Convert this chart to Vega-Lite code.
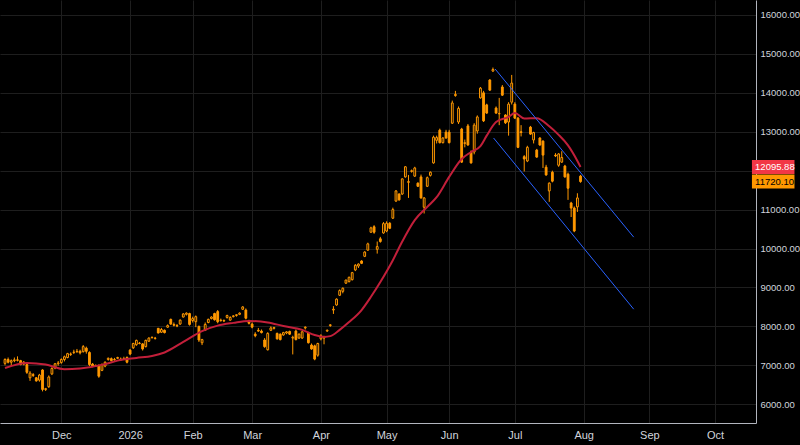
{
  "$schema": "https://vega.github.io/schema/vega-lite/v6.json",
  "description": "SOX daily candles with moving average and a falling channel",
  "width": 756,
  "height": 423,
  "autosize": {"type": "none"},
  "padding": {"left": 0, "top": 0, "right": 44, "bottom": 22},
  "background": "#000000",
  "config": {"view": {"stroke": null}, "font": "Liberation Sans"},
  "datasets": {
    "candles": [
      {"i": -18, "o": 7050, "h": 7180, "l": 7000, "c": 7150},
      {"i": -17, "o": 7150, "h": 7200, "l": 7050, "c": 7080},
      {"i": -16, "o": 7080, "h": 7150, "l": 6980, "c": 7120},
      {"i": -15, "o": 7120, "h": 7200, "l": 7080, "c": 7140},
      {"i": -14, "o": 7140, "h": 7230, "l": 7100, "c": 7130},
      {"i": -13, "o": 7120, "h": 7140, "l": 7000, "c": 7020},
      {"i": -12, "o": 7030, "h": 7110, "l": 7000, "c": 7080},
      {"i": -11, "o": 7020, "h": 7040, "l": 6780, "c": 6820},
      {"i": -10, "o": 6680, "h": 6850, "l": 6600, "c": 6800},
      {"i": -9, "o": 6760, "h": 6800, "l": 6700, "c": 6740},
      {"i": -8, "o": 6680, "h": 6700, "l": 6580, "c": 6600},
      {"i": -7, "o": 6620, "h": 6780, "l": 6580, "c": 6750},
      {"i": -6, "o": 6880, "h": 6900, "l": 6330, "c": 6380},
      {"i": -5, "o": 6380, "h": 6420, "l": 6340, "c": 6400},
      {"i": -4, "o": 6450, "h": 6740, "l": 6420, "c": 6700},
      {"i": -3, "o": 6780, "h": 6950, "l": 6750, "c": 6920},
      {"i": -2, "o": 6930, "h": 7060, "l": 6900, "c": 7040},
      {"i": -1, "o": 7040, "h": 7110, "l": 6990, "c": 7060},
      {"i": 0, "o": 7070, "h": 7180, "l": 7040, "c": 7150},
      {"i": 1, "o": 7150, "h": 7250, "l": 7100, "c": 7220},
      {"i": 2, "o": 7200, "h": 7320, "l": 7180, "c": 7300},
      {"i": 3, "o": 7280, "h": 7330, "l": 7240, "c": 7290},
      {"i": 4, "o": 7330, "h": 7400, "l": 7290, "c": 7340},
      {"i": 5, "o": 7350, "h": 7420, "l": 7320, "c": 7360},
      {"i": 6, "o": 7360, "h": 7400, "l": 7280, "c": 7320},
      {"i": 7, "o": 7350, "h": 7520, "l": 7330, "c": 7480},
      {"i": 8, "o": 7440, "h": 7480, "l": 7300, "c": 7360},
      {"i": 9, "o": 7330, "h": 7360, "l": 6980, "c": 7020},
      {"i": 10, "o": 7030, "h": 7060, "l": 6950, "c": 6980},
      {"i": 11, "o": 6980, "h": 7020, "l": 6960, "c": 7000},
      {"i": 12, "o": 7000, "h": 7020, "l": 6680, "c": 6720},
      {"i": 13, "o": 6870, "h": 7050, "l": 6850, "c": 7020},
      {"i": 14, "o": 6980, "h": 7100, "l": 6950, "c": 7080},
      {"i": 15, "o": 7150, "h": 7200, "l": 7120, "c": 7180},
      {"i": 16, "o": 7170, "h": 7200, "l": 7100, "c": 7120},
      {"i": 17, "o": 7140, "h": 7190, "l": 7120, "c": 7150},
      {"i": 18, "o": 7180, "h": 7220, "l": 7160, "c": 7200},
      {"i": 19, "o": 7160, "h": 7200, "l": 7110, "c": 7140},
      {"i": 20, "o": 7170, "h": 7220, "l": 7140, "c": 7160},
      {"i": 21, "o": 7200, "h": 7230, "l": 7050, "c": 7080},
      {"i": 22, "o": 7390, "h": 7420, "l": 7260, "c": 7290},
      {"i": 23, "o": 7450, "h": 7580, "l": 7420, "c": 7560},
      {"i": 24, "o": 7530, "h": 7660, "l": 7500, "c": 7640},
      {"i": 25, "o": 7560, "h": 7600, "l": 7540, "c": 7570},
      {"i": 26, "o": 7550, "h": 7570, "l": 7380, "c": 7420},
      {"i": 27, "o": 7480, "h": 7660, "l": 7460, "c": 7640},
      {"i": 28, "o": 7620, "h": 7720, "l": 7600, "c": 7700},
      {"i": 29, "o": 7710, "h": 7740, "l": 7690, "c": 7720},
      {"i": 30, "o": 7690, "h": 7730, "l": 7660, "c": 7700},
      {"i": 31, "o": 7950, "h": 7960, "l": 7820, "c": 7830},
      {"i": 32, "o": 7850, "h": 7960, "l": 7830, "c": 7920},
      {"i": 33, "o": 7900, "h": 7920, "l": 7820, "c": 7840},
      {"i": 34, "o": 7980, "h": 8050, "l": 7960, "c": 8020},
      {"i": 35, "o": 8180, "h": 8200, "l": 8040, "c": 8060},
      {"i": 36, "o": 8050, "h": 8100, "l": 8000, "c": 8030},
      {"i": 37, "o": 8020, "h": 8060, "l": 7980, "c": 8010},
      {"i": 38, "o": 8060, "h": 8180, "l": 8040, "c": 8160},
      {"i": 39, "o": 8240, "h": 8340, "l": 8230, "c": 8320},
      {"i": 40, "o": 8310, "h": 8360, "l": 8280, "c": 8340},
      {"i": 41, "o": 8330, "h": 8350, "l": 8020, "c": 8050},
      {"i": 42, "o": 8150, "h": 8250, "l": 8100, "c": 8200},
      {"i": 43, "o": 8120, "h": 8280, "l": 7980, "c": 8250},
      {"i": 44, "o": 8000, "h": 8020, "l": 7600, "c": 7650},
      {"i": 45, "o": 7580, "h": 7680, "l": 7520, "c": 7660},
      {"i": 46, "o": 7900, "h": 8100, "l": 7880, "c": 8050},
      {"i": 47, "o": 8100, "h": 8200, "l": 8080, "c": 8180},
      {"i": 48, "o": 8200, "h": 8260, "l": 8180, "c": 8240},
      {"i": 49, "o": 8330, "h": 8350, "l": 8150, "c": 8170},
      {"i": 50, "o": 8380, "h": 8420, "l": 8080, "c": 8120},
      {"i": 51, "o": 8150, "h": 8200, "l": 8120, "c": 8160},
      {"i": 52, "o": 8140, "h": 8180, "l": 8110, "c": 8150},
      {"i": 53, "o": 8230, "h": 8300, "l": 8200, "c": 8280},
      {"i": 54, "o": 8160, "h": 8260, "l": 8150, "c": 8230},
      {"i": 55, "o": 8250, "h": 8290, "l": 8230, "c": 8270},
      {"i": 56, "o": 8280, "h": 8310, "l": 8250, "c": 8300},
      {"i": 57, "o": 8310, "h": 8360, "l": 8290, "c": 8340},
      {"i": 58, "o": 8440, "h": 8520, "l": 8420, "c": 8500},
      {"i": 59, "o": 8420, "h": 8460, "l": 8180, "c": 8210},
      {"i": 60, "o": 8130, "h": 8170, "l": 8050, "c": 8080},
      {"i": 61, "o": 8060, "h": 8100, "l": 7950, "c": 7980},
      {"i": 62, "o": 7800, "h": 7850, "l": 7720, "c": 7760},
      {"i": 63, "o": 7900, "h": 7960, "l": 7860, "c": 7880},
      {"i": 64, "o": 7880, "h": 7920, "l": 7820, "c": 7840},
      {"i": 65, "o": 7650, "h": 7700, "l": 7450, "c": 7480},
      {"i": 66, "o": 7400, "h": 7850, "l": 7380, "c": 7820},
      {"i": 67, "o": 7900, "h": 8000, "l": 7880, "c": 7960},
      {"i": 68, "o": 7950, "h": 7990, "l": 7920, "c": 7970},
      {"i": 69, "o": 7820, "h": 7840, "l": 7660, "c": 7680},
      {"i": 70, "o": 7800, "h": 7820, "l": 7640, "c": 7660},
      {"i": 71, "o": 7780, "h": 7860, "l": 7760, "c": 7840},
      {"i": 72, "o": 7830, "h": 7880, "l": 7800, "c": 7860},
      {"i": 73, "o": 7870, "h": 7890, "l": 7780, "c": 7800},
      {"i": 74, "o": 7700, "h": 7760, "l": 7280, "c": 7720},
      {"i": 75, "o": 7880, "h": 7920, "l": 7640, "c": 7660},
      {"i": 76, "o": 7700, "h": 7820, "l": 7680, "c": 7800},
      {"i": 77, "o": 7700, "h": 7880, "l": 7680, "c": 7860},
      {"i": 78, "o": 7960, "h": 8000, "l": 7920, "c": 7980},
      {"i": 79, "o": 7830, "h": 7860, "l": 7560, "c": 7580},
      {"i": 80, "o": 7520, "h": 7560, "l": 7400, "c": 7420},
      {"i": 81, "o": 7500, "h": 7530, "l": 7130, "c": 7160},
      {"i": 82, "o": 7260, "h": 7580, "l": 7220, "c": 7560},
      {"i": 83, "o": 7680, "h": 7800, "l": 7640, "c": 7760},
      {"i": 84, "o": 7700, "h": 7760, "l": 7540, "c": 7720},
      {"i": 85, "o": 7880, "h": 7920, "l": 7860, "c": 7900},
      {"i": 86, "o": 8020, "h": 8060, "l": 7990, "c": 8040},
      {"i": 87, "o": 8420, "h": 8520, "l": 8320, "c": 8440},
      {"i": 88, "o": 8550, "h": 8720, "l": 8530, "c": 8700},
      {"i": 89, "o": 8800, "h": 8950, "l": 8780, "c": 8920},
      {"i": 90, "o": 8900, "h": 9000, "l": 8850, "c": 8980},
      {"i": 91, "o": 9110, "h": 9200, "l": 9090, "c": 9190},
      {"i": 92, "o": 9150, "h": 9280, "l": 9130, "c": 9260},
      {"i": 93, "o": 9200, "h": 9400, "l": 9180, "c": 9380},
      {"i": 94, "o": 9450, "h": 9600, "l": 9420, "c": 9570},
      {"i": 95, "o": 9550, "h": 9620, "l": 9500, "c": 9600},
      {"i": 96, "o": 9680, "h": 9700, "l": 9600, "c": 9620},
      {"i": 97, "o": 9800, "h": 9930, "l": 9780, "c": 9910},
      {"i": 98, "o": 9960, "h": 10150, "l": 9940, "c": 10120},
      {"i": 99, "o": 10420, "h": 10560, "l": 10400, "c": 10530},
      {"i": 100, "o": 10560, "h": 10600, "l": 10380, "c": 10420},
      {"i": 101, "o": 9980, "h": 10180, "l": 9870, "c": 10050},
      {"i": 102, "o": 10250, "h": 10300, "l": 10150, "c": 10180},
      {"i": 103, "o": 10400, "h": 10680, "l": 10380, "c": 10640},
      {"i": 104, "o": 10450, "h": 10700, "l": 10420, "c": 10650},
      {"i": 105, "o": 10650, "h": 10680, "l": 10500, "c": 10520},
      {"i": 106, "o": 10780, "h": 11050, "l": 10760, "c": 11000},
      {"i": 107, "o": 11220, "h": 11500, "l": 11200, "c": 11480},
      {"i": 108, "o": 11400, "h": 11420, "l": 11230, "c": 11250},
      {"i": 109, "o": 11400, "h": 11800, "l": 11380, "c": 11790},
      {"i": 110, "o": 11840, "h": 12120, "l": 11820, "c": 12100},
      {"i": 111, "o": 11700, "h": 11890, "l": 11300, "c": 11720},
      {"i": 112, "o": 11980, "h": 12030, "l": 11950, "c": 12000},
      {"i": 113, "o": 11860, "h": 12100, "l": 11840, "c": 12070},
      {"i": 114, "o": 11680, "h": 11700, "l": 11580, "c": 11600},
      {"i": 115, "o": 11840, "h": 11900, "l": 11280, "c": 11300},
      {"i": 116, "o": 11060, "h": 11320, "l": 10900, "c": 11300},
      {"i": 117, "o": 11600, "h": 11850, "l": 11580, "c": 11820},
      {"i": 118, "o": 11880, "h": 11980, "l": 11850, "c": 11960},
      {"i": 119, "o": 12200, "h": 12900, "l": 12180, "c": 12860},
      {"i": 120, "o": 12780, "h": 12900, "l": 12700, "c": 12850},
      {"i": 121, "o": 13040, "h": 13080, "l": 12700, "c": 12720},
      {"i": 122, "o": 12720, "h": 12860, "l": 12700, "c": 12840},
      {"i": 123, "o": 12990, "h": 13050, "l": 12820, "c": 12840},
      {"i": 124, "o": 12990, "h": 13050, "l": 12700, "c": 12720},
      {"i": 125, "o": 13220, "h": 13800, "l": 13200, "c": 13740},
      {"i": 126, "o": 13930, "h": 14050, "l": 13900, "c": 13960},
      {"i": 127, "o": 13250, "h": 13650, "l": 13200, "c": 13600},
      {"i": 128, "o": 13070, "h": 13100, "l": 12200, "c": 12220},
      {"i": 129, "o": 12700, "h": 12800, "l": 12600, "c": 12720},
      {"i": 130, "o": 13150, "h": 13200, "l": 12640, "c": 12660},
      {"i": 131, "o": 12480, "h": 12520, "l": 12180, "c": 12200},
      {"i": 132, "o": 12480, "h": 13220, "l": 12420, "c": 13170},
      {"i": 133, "o": 13020, "h": 13420, "l": 12950, "c": 13380},
      {"i": 134, "o": 13870, "h": 14150, "l": 13850, "c": 14120},
      {"i": 135, "o": 14000, "h": 14050, "l": 13250, "c": 13280},
      {"i": 136, "o": 13690, "h": 13720, "l": 13460, "c": 13480},
      {"i": 137, "o": 14330, "h": 14350, "l": 14050, "c": 14070},
      {"i": 138, "o": 14560, "h": 14650, "l": 14540, "c": 14600},
      {"i": 139, "o": 13610, "h": 13650, "l": 13460, "c": 13480},
      {"i": 140, "o": 13460, "h": 13870, "l": 13170, "c": 13470},
      {"i": 141, "o": 14150, "h": 14200, "l": 13920, "c": 13940},
      {"i": 142, "o": 13430, "h": 13450, "l": 13200, "c": 13230},
      {"i": 143, "o": 13250, "h": 13760, "l": 12900, "c": 13710},
      {"i": 144, "o": 13760, "h": 14460, "l": 13700, "c": 14250},
      {"i": 145, "o": 13710, "h": 13760, "l": 13330, "c": 13350},
      {"i": 146, "o": 13350, "h": 13380, "l": 12580, "c": 12600},
      {"i": 147, "o": 13000, "h": 13170, "l": 12880, "c": 12980},
      {"i": 148, "o": 12360, "h": 12400, "l": 11980, "c": 12300},
      {"i": 149, "o": 12250, "h": 12640, "l": 12220, "c": 12600},
      {"i": 150, "o": 13120, "h": 13150, "l": 12920, "c": 12940},
      {"i": 151, "o": 12790, "h": 13000, "l": 12700, "c": 12980},
      {"i": 152, "o": 12530, "h": 12560, "l": 12330, "c": 12350},
      {"i": 153, "o": 12840, "h": 12860, "l": 12640, "c": 12660},
      {"i": 154, "o": 12760, "h": 12780, "l": 12070, "c": 12400},
      {"i": 155, "o": 12090, "h": 12150, "l": 11870, "c": 11890},
      {"i": 156, "o": 11480, "h": 11700, "l": 11200, "c": 11680},
      {"i": 157, "o": 11960, "h": 12000, "l": 11700, "c": 11730},
      {"i": 158, "o": 12400, "h": 12450, "l": 12350, "c": 12380},
      {"i": 159, "o": 12140, "h": 12450, "l": 12100, "c": 12430},
      {"i": 160, "o": 12220, "h": 12500, "l": 12200, "c": 12340},
      {"i": 161, "o": 12120, "h": 12150, "l": 11820, "c": 11840},
      {"i": 162, "o": 11910, "h": 11950, "l": 11250, "c": 11550},
      {"i": 163, "o": 11170, "h": 11200, "l": 10810, "c": 11040},
      {"i": 164, "o": 11040, "h": 11080, "l": 10420, "c": 10450},
      {"i": 165, "o": 11070, "h": 11420, "l": 10940, "c": 11300},
      {"i": 166, "o": 11860, "h": 11890, "l": 11690, "c": 11720.1}
    ],
    "ma": [
      {"i": -18, "v": 6930}, {"i": -11, "v": 7060}, {"i": -5, "v": 7020},
      {"i": 1, "v": 6900}, {"i": 6, "v": 6920}, {"i": 14, "v": 7030},
      {"i": 18, "v": 7120}, {"i": 24, "v": 7190}, {"i": 29, "v": 7240},
      {"i": 33, "v": 7330}, {"i": 39, "v": 7600}, {"i": 45, "v": 7880},
      {"i": 50, "v": 8020}, {"i": 55, "v": 8090}, {"i": 60, "v": 8140},
      {"i": 66, "v": 8100}, {"i": 71, "v": 8010}, {"i": 77, "v": 7910},
      {"i": 81, "v": 7780}, {"i": 84, "v": 7730}, {"i": 86, "v": 7750},
      {"i": 89, "v": 7910}, {"i": 92, "v": 8110}, {"i": 96, "v": 8420},
      {"i": 99, "v": 8760}, {"i": 102, "v": 9140}, {"i": 106, "v": 9700},
      {"i": 109, "v": 10180}, {"i": 113, "v": 10730}, {"i": 117, "v": 11070},
      {"i": 120, "v": 11320}, {"i": 124, "v": 11840}, {"i": 128, "v": 12300},
      {"i": 131, "v": 12480}, {"i": 134, "v": 12630}, {"i": 136, "v": 12900},
      {"i": 139, "v": 13250}, {"i": 143, "v": 13380}, {"i": 145, "v": 13480},
      {"i": 148, "v": 13340}, {"i": 152, "v": 13350}, {"i": 156, "v": 13140},
      {"i": 159, "v": 12920}, {"i": 162, "v": 12650}, {"i": 165, "v": 12250},
      {"i": 166, "v": 12095.88}
    ],
    "channel": [
      {"line": "upper", "i": 138.7, "v": 14612},
      {"line": "upper", "i": 183, "v": 10293},
      {"line": "lower", "i": 138.2, "v": 12840},
      {"line": "lower", "i": 183, "v": 8442}
    ],
    "tags": [
      {"k": "ma", "v": 12095.88, "t": "12095.88"},
      {"k": "last", "v": 11720.1, "t": "11720.10"}
    ]
  },
  "layer": [
    {
      "data": {"name": "candles"},
      "mark": {"type": "rule", "color": "#ff9800", "strokeWidth": 1, "clip": true},
      "encoding": {
        "x": {
          "field": "i", "type": "quantitative", "title": null,
          "scale": {"domain": [-18, 220.5], "nice": false, "zero": false},
          "axis": {
            "values": [0, 22, 42, 61, 83, 104, 124, 145, 167, 188, 209],
            "labelExpr": "['Dec','2026','Feb','Mar','Apr','May','Jun','Jul','Aug','Sep','Oct'][indexof([0,22,42,61,83,104,124,145,167,188,209], datum.value)]",
            "grid": true, "gridColor": "#1e1e1e", "domainColor": "#b2b5be",
            "ticks": false, "labelColor": "#d1d4dc", "labelFontSize": 11,
            "labelFont": "Liberation Sans",
            "labelPadding": 6, "labelFlush": false, "labelOverlap": false
          }
        },
        "y": {
          "field": "l", "type": "quantitative", "title": null,
          "scale": {"domain": [5518, 16385], "nice": false, "zero": false},
          "axis": {
            "orient": "right",
            "values": [6000, 7000, 8000, 9000, 10000, 11000, 12000, 13000, 14000, 15000, 16000],
            "labelExpr": "datum.value == 12000 ? '' : format(datum.value, '.2f')",
            "grid": true, "gridColor": "#1e1e1e", "domainColor": "#b2b5be",
            "ticks": false, "labelColor": "#d1d4dc", "labelFontSize": 9.5,
            "labelFont": "Liberation Sans",
            "labelPadding": 4, "labelFlush": false, "labelOverlap": false
          }
        },
        "y2": {"field": "h"}
      }
    },
    {
      "data": {"name": "candles"},
      "mark": {"type": "bar", "width": 1.8, "stroke": "#ff9800", "strokeWidth": 1, "clip": true},
      "encoding": {
        "x": {"field": "i", "type": "quantitative", "title": null},
        "y": {"field": "o", "type": "quantitative", "title": null},
        "y2": {"field": "c"},
        "fill": {"condition": {"test": "datum.c >= datum.o", "value": "#000000"}, "value": "#ff9800"}
      }
    },
    {
      "data": {"name": "ma"},
      "mark": {"type": "line", "color": "#c21f3a", "strokeWidth": 2, "interpolate": "monotone", "clip": true},
      "encoding": {
        "x": {"field": "i", "type": "quantitative", "title": null},
        "y": {"field": "v", "type": "quantitative", "title": null}
      }
    },
    {
      "data": {"name": "channel"},
      "mark": {"type": "line", "color": "#2962ff", "strokeWidth": 1, "clip": true},
      "encoding": {
        "x": {"field": "i", "type": "quantitative", "title": null},
        "y": {"field": "v", "type": "quantitative", "title": null},
        "detail": {"field": "line"}
      }
    },
    {
      "mark": {"type": "text", "text": "SOX", "color": "#ff9800", "font": "Liberation Sans", "fontSize": 16, "align": "center", "baseline": "middle"},
      "encoding": {
        "x": {"datum": 73.2, "type": "quantitative"},
        "y": {"datum": 14540, "type": "quantitative"}
      }
    },
    {
      "data": {"name": "tags"},
      "mark": {"type": "rule", "strokeWidth": 14, "strokeCap": "butt", "clip": false},
      "encoding": {
        "x": {"datum": 220.8, "type": "quantitative"},
        "x2": {"datum": 234.4},
        "y": {"field": "v", "type": "quantitative", "title": null},
        "color": {"condition": {"test": "datum.k == 'ma'", "value": "#f23645"}, "value": "#ff9800"}
      }
    },
    {
      "data": {"name": "tags"},
      "mark": {"type": "text", "align": "left", "baseline": "middle", "font": "Liberation Sans", "fontSize": 9.5, "clip": false},
      "encoding": {
        "x": {"datum": 221.8, "type": "quantitative"},
        "y": {"field": "v", "type": "quantitative", "title": null},
        "text": {"field": "t"},
        "color": {"condition": {"test": "datum.k == 'ma'", "value": "#ffffff"}, "value": "#000000"}
      }
    }
  ]
}
